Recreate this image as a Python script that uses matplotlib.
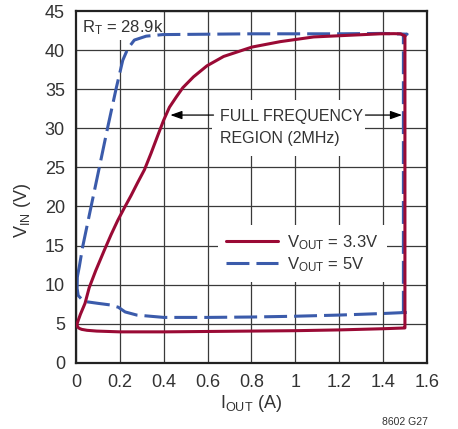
import matplotlib
matplotlib.use("Agg")
import matplotlib.pyplot as plt
from matplotlib.patches import Rectangle

plt.rcParams["font.family"] = ["Liberation Sans", "DejaVu Sans"]
plt.rcParams["mathtext.fontset"] = "custom"
plt.rcParams["mathtext.rm"] = "Liberation Sans"
plt.rcParams["mathtext.it"] = "Liberation Sans"

RED = "#9a0a35"
BLUE = "#3b5bab"
TEXT = "#333333"

# VOUT = 3.3V boundary (closed loop, from top right going left)
red_x = [1.50, 1.48, 1.45, 1.388, 1.236, 1.084, 0.932, 0.802, 0.673, 0.597,
         0.536, 0.487, 0.457, 0.426, 0.399, 0.373, 0.342, 0.312, 0.280, 0.251,
         0.220, 0.190, 0.160, 0.129, 0.09, 0.06, 0.041, 0.020, 0.011, 0.004,
         0.008, 0.016, 0.026, 0.05, 0.094, 0.2, 0.4, 0.6, 0.8, 1.0, 1.2, 1.4,
         1.50, 1.50, 1.50]
red_y = [41.8, 42.1, 42.12, 42.1, 41.9, 41.7, 41.1, 40.4, 39.2, 38.0,
         36.6, 35.2, 34.0, 32.7, 31.0, 29.1, 26.8, 24.7, 23.0, 21.4,
         19.8, 18.2, 16.4, 14.4, 11.8, 9.6, 7.6, 6.2, 5.5, 4.9,
         4.55, 4.38, 4.27, 4.15, 4.05, 3.95, 3.95, 4.0, 4.05, 4.1, 4.2, 4.35,
         4.45, 4.6, 41.8]

# VOUT = 5V boundary
blue_x = [0.006, 0.005, 0.010, 0.030, 0.049, 0.10, 0.155, 0.193, 0.224, 0.277,
          0.40, 0.60, 0.80, 1.00, 1.20, 1.40, 1.52, 1.493, 1.493, 1.51, 1.40,
          1.20, 1.00, 0.80, 0.60, 0.396, 0.320, 0.266, 0.236, 0.213, 0.183,
          0.145, 0.107, 0.068, 0.030, 0.015, 0.006]
blue_y = [11.0, 9.5, 8.6, 8.0, 7.8, 7.6, 7.4, 7.1, 6.5, 6.1,
          5.8, 5.8, 5.85, 5.95, 6.1, 6.3, 6.45, 6.45, 41.9, 42.05, 42.15,
          42.1, 42.1, 42.1, 42.05, 42.0, 41.8, 41.3, 40.2, 38.7, 35.1,
          30.2, 25.1, 19.9, 14.8, 12.3, 11.0]

x_ticks = [0, 0.2, 0.4, 0.6, 0.8, 1.0, 1.2, 1.4, 1.6]
x_labels = ["0", "0.2", "0.4", "0.6", "0.8", "1", "1.2", "1.4", "1.6"]
y_ticks = [0, 5, 10, 15, 20, 25, 30, 35, 40, 45]

fig = plt.figure(figsize=(4.58, 4.29), dpi=100)
ax = fig.add_axes([0.166, 0.1545, 0.766, 0.8195])

ax.plot(blue_x, blue_y, color=BLUE, lw=2.2, ls=(0, (7.5, 2.3)),
        dash_joinstyle="round", zorder=2, label=r"V$_{\mathrm{OUT}}$ = 5V")
ax.plot(red_x, red_y, color=RED, lw=2.2, solid_joinstyle="round",
        solid_capstyle="round", zorder=3, label=r"V$_{\mathrm{OUT}}$ = 3.3V")

ax.set_xlim(0, 1.6)
ax.set_ylim(0, 45)
ax.set_xticks(x_ticks)
ax.set_xticklabels(x_labels)
ax.set_yticks(y_ticks)
ax.tick_params(length=0, labelsize=13, labelcolor=TEXT, pad=8)
ax.grid(True, color="#3a3a3a", lw=0.9)
ax.set_axisbelow(True)
for s in ax.spines.values():
    s.set_linewidth(1.6)
    s.set_color("#222222")

ax.set_xlabel(r"I$_{\mathrm{OUT}}$ (A)", fontsize=13, color=TEXT)
ax.set_ylabel(r"V$_{\mathrm{IN}}$ (V)", fontsize=13, color=TEXT)
ax.xaxis.set_label_coords(0.5, -0.086)
ax.yaxis.set_label_coords(-0.122, 0.434)

# R_T label, with white background over the grid
ax.add_patch(Rectangle((0.0, 41.3), 0.385, 3.7, facecolor="white",
                       edgecolor="none", zorder=1))
ax.text(0.027, 42.3, r"R$_{\mathrm{T}}$ = 28.9k", fontsize=12, color=TEXT,
        va="baseline", ha="left", zorder=4)

# annotation with white background over the grid
ax.add_patch(Rectangle((0.622, 26.5), 0.698, 7.1, facecolor="white",
                       edgecolor="none", zorder=1))
ax.text(0.658, 31.0, "FULL FREQUENCY", fontsize=11.5, color=TEXT,
        va="baseline", ha="left", zorder=4)
ax.text(0.658, 28.1, "REGION (2MHz)", fontsize=11.5, color=TEXT,
        va="baseline", ha="left", zorder=4)
arrow = dict(arrowstyle="-|>,head_length=0.7,head_width=0.25", color="black",
             lw=0.9, shrinkA=0, shrinkB=0)
ax.annotate("", xy=(0.43, 31.7), xytext=(0.627, 31.7), arrowprops=arrow, zorder=4)
ax.annotate("", xy=(1.487, 31.7), xytext=(1.32, 31.7), arrowprops=arrow, zorder=4)

handles, labels = ax.get_legend_handles_labels()
leg = ax.legend(handles[::-1], labels[::-1], loc="upper left",
                bbox_to_anchor=(0.404, 0.392), fontsize=12, frameon=True,
                fancybox=False, framealpha=1, edgecolor="none",
                borderaxespad=0, borderpad=0.5, handlelength=3.1,
                handletextpad=0.55, labelspacing=0.2)
for t in leg.get_texts():
    t.set_color(TEXT)
leg.set_zorder(5)

fig.text(0.934, 0.016, "8602 G27", fontsize=7.5, color=TEXT, ha="right",
         va="center")

fig.savefig("out.png", dpi=100)
